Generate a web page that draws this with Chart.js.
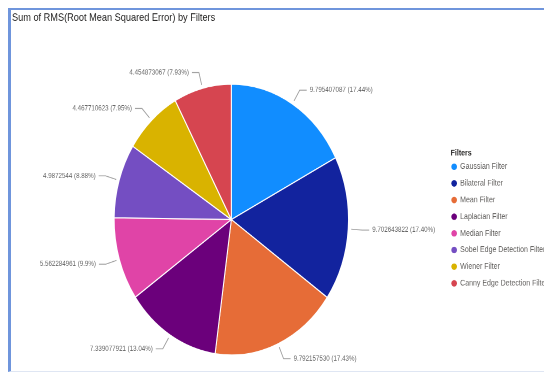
<!DOCTYPE html>
<html>
<head>
<meta charset="utf-8">
<script src="https://cdn.jsdelivr.net/npm/chart.js@4.4.1/dist/chart.umd.min.js"></script>
<style>
html, body { margin: 0; padding: 0; background: #ffffff; overflow: hidden; width: 544px; height: 375px; }
#wrap { position: absolute; left: 0; top: 0; width: 560px; height: 325px; transform: scale(1, 1.156); transform-origin: 0 0; }
#frame { position: absolute; left: 8px; top: 8px; width: 545px; height: 364px; box-sizing: border-box;
  border-left: 3px solid #6f95dc; border-top: 2px solid #6f95dc; border-bottom: 1px solid #dfe6f3; pointer-events: none; }
</style>
</head>
<body>
<div id="wrap"><canvas id="c"></canvas></div>
<div id="frame"></div>
<script>
// ---- data ----
const chartTitle = 'Sum of RMS(Root Mean Squared Error) by Filters';
const legendTitle = 'Filters';
const categories = ['Gaussian Filter', 'Bilateral Filter', 'Mean Filter', 'Laplacian Filter',
                    'Median Filter', 'Sobel Edge Detection Filter', 'Wiener Filter', 'Canny Edge Detection Filter'];
const values = [9.795407087, 9.702643822, 9.792157530, 7.339077921, 5.562284961, 4.9872544, 4.467710623, 4.454873067];
const valueLabels = ['9.795407087', '9.702643822', '9.792157530', '7.339077921', '5.562284961', '4.9872544', '4.467710623', '4.454873067'];
const percentLabels = ['17.44%', '17.40%', '17.43%', '13.04%', '9.9%', '8.88%', '7.95%', '7.93%'];
const colors = ['#118DFF', '#12239E', '#E66C37', '#6B007B', '#E044A7', '#744EC2', '#D9B300', '#D64550'];

const FONT = '"Liberation Sans", Arial, sans-serif';

const outerLabels = {
  id: 'outerLabels',
  afterDatasetsDraw(chart) {
    const ctx = chart.ctx;
    const meta = chart.getDatasetMeta(0);
    ctx.save();
    ctx.font = '6.2px ' + FONT;
    ctx.fillStyle = '#666666';
    ctx.strokeStyle = '#9a9a9a';
    ctx.lineWidth = 0.8;
    ctx.textBaseline = 'middle';
    meta.data.forEach((arc, i) => {
      const p = arc.getProps(['x', 'y', 'startAngle', 'endAngle', 'outerRadius'], true);
      const mid = (p.startAngle + p.endAngle) / 2;
      const c = Math.cos(mid), s = Math.sin(mid);
      const x0 = p.x + c * (p.outerRadius + 3), y0 = p.y + s * (p.outerRadius + 3);
      const x1 = p.x + c * (p.outerRadius + 14), y1 = p.y + s * (p.outerRadius + 14);
      const dir = c >= 0 ? 1 : -1;
      const x2 = x1 + dir * 7;
      ctx.beginPath();
      ctx.moveTo(x0, y0); ctx.lineTo(x1, y1); ctx.lineTo(x2, y1);
      ctx.stroke();
      ctx.textAlign = dir > 0 ? 'left' : 'right';
      ctx.fillText(valueLabels[i] + ' (' + percentLabels[i] + ')', x2 + dir * 3, y1);
    });
    ctx.restore();
  }
};

new Chart(document.getElementById('c'), {
  type: 'pie',
  data: {
    labels: categories,
    datasets: [{
      data: values,
      backgroundColor: colors,
      borderColor: '#ffffff',
      borderWidth: 1
    }]
  },
  options: {
    responsive: true,
    maintainAspectRatio: false,
    devicePixelRatio: 2,
    animation: false,
    layout: { padding: { left: 12, right: 2.3, top: 0, bottom: 17.4 } },
    plugins: {
      tooltip: { enabled: false },
      title: {
        display: true, text: chartTitle, align: 'start', color: '#252423',
        font: { size: 9.2, weight: 'normal', family: FONT, lineHeight: 1.2 },
        padding: { top: 10.1, bottom: 51.06 }
      },
      legend: {
        position: 'right', align: 'center', fullSize: false,
        title: {
          display: true, text: legendTitle, position: 'start', color: '#252423',
          font: { size: 7, weight: 'bold', family: FONT, lineHeight: 1.2 },
          padding: { top: 5.3, bottom: 2.2 }
        },
        labels: {
          usePointStyle: true, pointStyle: 'circle', boxWidth: 5, boxHeight: 4,
          padding: 1, color: '#605e5c',
          font: { size: 7, family: FONT, lineHeight: 13.41 / 7 },
          generateLabels(chart) {
            const items = Chart.overrides.doughnut.plugins.legend.labels.generateLabels(chart);
            items.forEach(it => { it.text = [it.text]; it.lineWidth = 0; });
            return items;
          }
        }
      }
    }
  },
  plugins: [outerLabels]
});
</script>
</body>
</html>
